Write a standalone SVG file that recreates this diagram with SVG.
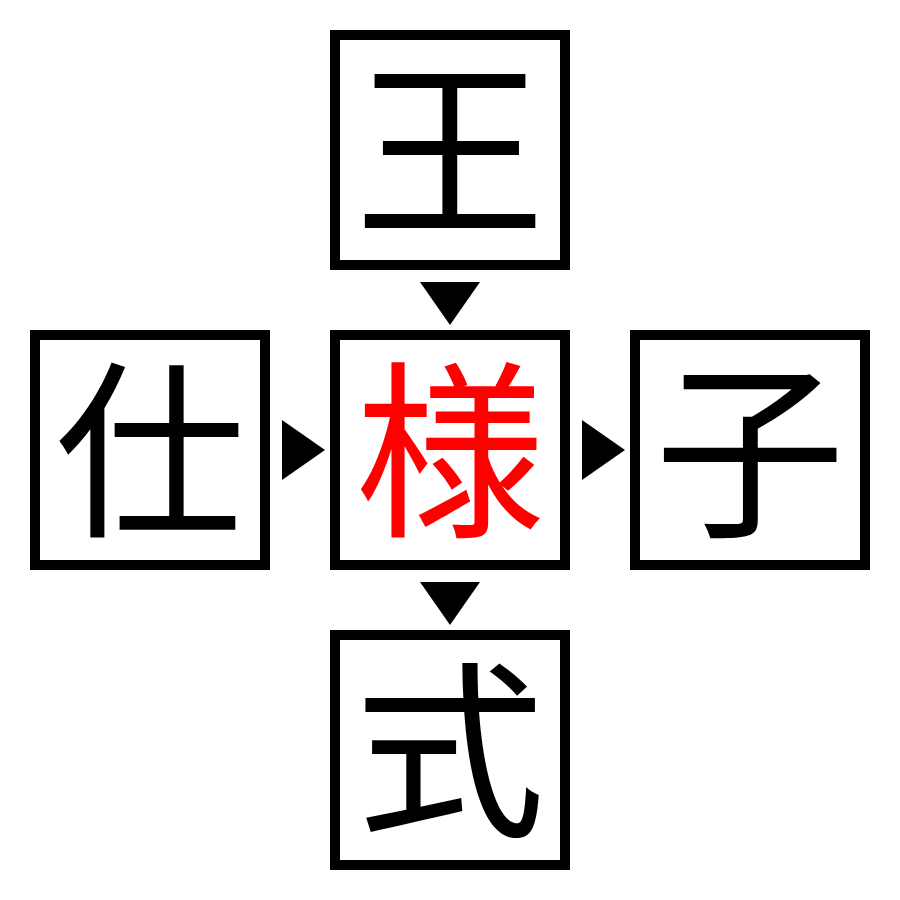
<svg xmlns="http://www.w3.org/2000/svg" width="900" height="900" viewBox="0 0 900 900">
<style>
.box{fill:#fff;stroke:#000;stroke-width:10}
.ch{font-family:"Noto Sans CJK JP","Noto Sans CJK SC",sans-serif;font-size:190px;text-anchor:middle;fill:#000}
.red{fill:#ff0000}
.arr{fill:#000}
</style>
<rect width="900" height="900" fill="#fff"/>
<g id="node-top"><rect class="box" x="335" y="35" width="230" height="230"/><text class="ch" x="450" y="221">王</text></g>
<g id="node-left"><rect class="box" x="35" y="335" width="230" height="230"/><text class="ch" x="150" y="522">仕</text></g>
<g id="node-center"><rect class="box" x="335" y="335" width="230" height="230"/><text class="ch red" x="450" y="522">様</text></g>
<g id="node-right"><rect class="box" x="635" y="335" width="230" height="230"/><text class="ch" x="750" y="522">子</text></g>
<g id="node-bottom"><rect class="box" x="335" y="635" width="230" height="230"/><text class="ch" x="450" y="822">式</text></g>
<g id="connectors">
<polygon class="arr" points="420,282 480,282 450,325"/>
<polygon class="arr" points="282,420 282,480 325,450"/>
<polygon class="arr" points="582,420 582,480 625,450"/>
<polygon class="arr" points="420,582 480,582 450,625"/>
</g>
</svg>
